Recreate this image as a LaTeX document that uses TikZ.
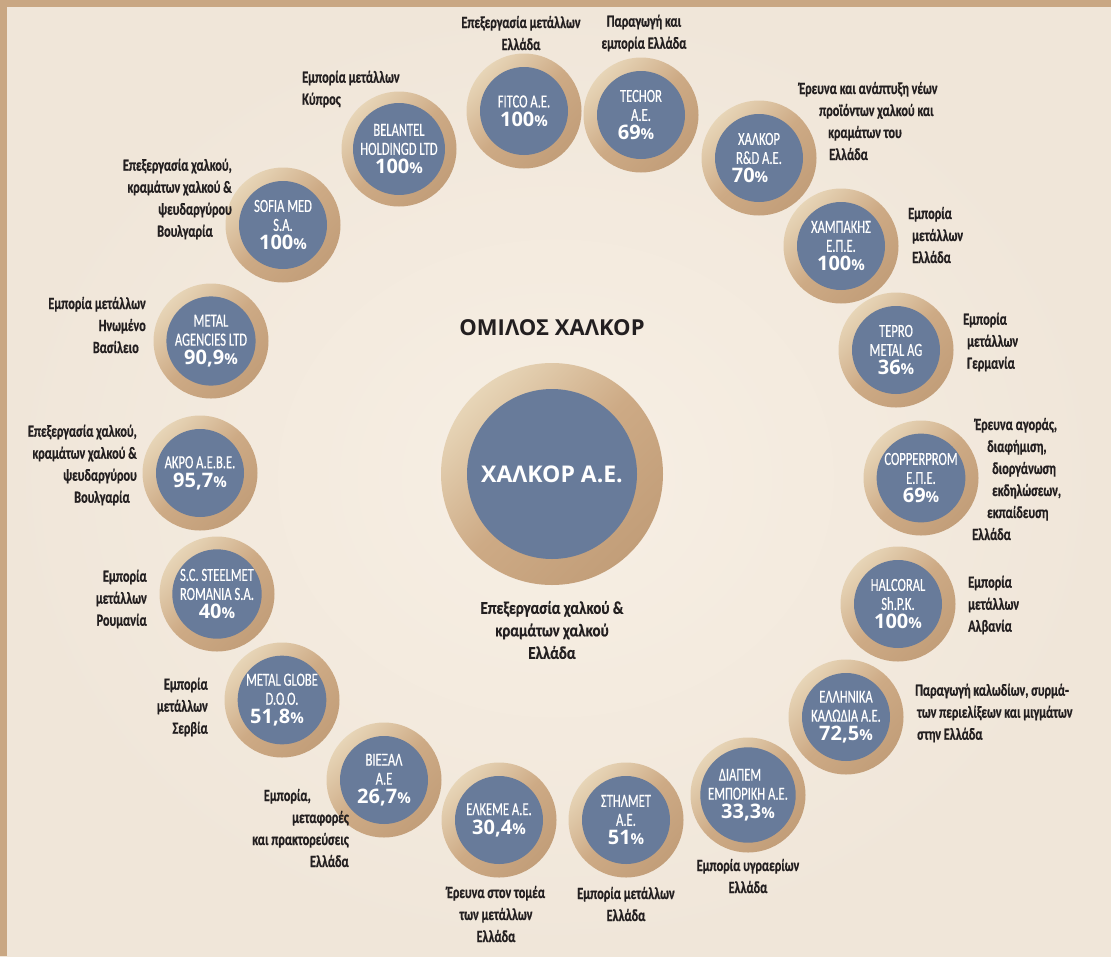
\documentclass[tikz,border=0pt]{standalone}
\usepackage{fontspec}
\setmainfont{Carlito}
\newfontfamily\narrowfont[FakeStretch=0.68, FakeBold=0.4]{Carlito}
\newfontfamily\descfont[FakeStretch=0.72, FakeBold=0.6]{Carlito Bold}
\newfontfamily\maindescfont[FakeStretch=0.83, FakeBold=0.6]{Carlito Bold}
\newfontfamily\boldfont{Open Sans}
\definecolor{bgin}{HTML}{F7EFE4}
\definecolor{bgout}{HTML}{F0E6D9}
\definecolor{frame}{HTML}{C9A783}
\definecolor{ringhi}{HTML}{E7D5B7}
\definecolor{ringmid}{HTML}{CDAA85}
\definecolor{ringlo}{HTML}{C29E79}
\definecolor{discblue}{HTML}{687B9A}
\definecolor{ink}{HTML}{231F20}
\tikzset{
    ring/.style={circle, inner sep=0pt, minimum size=115pt, top color=ringhi, bottom color=ringlo, middle color=ringmid, shading angle=45},
    disc/.style={circle, inner sep=0pt, minimum size=88pt, fill=discblue, text=white, align=center, font=\narrowfont\fontsize{18.5}{19}\selectfont},
    desc/.style={inner sep=0pt, text=ink, font=\descfont\fontsize{17}{22}\selectfont},
}
% one company: ring + blue disc with name and share
\newcommand{\firm}[3]{\node[ring] (#1ring) at (#2) {}; \node[disc] (#1) at (#2) {#3};}
\newcommand{\pct}[1]{{\boldfont\bfseries\fontsize{20}{19}\selectfont #1\fontsize{15}{15}\selectfont\%}}

\begin{document}
\begin{tikzpicture}[x=1pt, y=-1pt]
    \useasboundingbox (0,0) rectangle (1111,956);
    \shade[inner color=bgin, outer color=bgout] (0,0) rectangle (1111,956);
    \fill[frame] (0,0) rectangle (1111,7);
    \fill[frame] (0,0) rectangle (7,956);

    % centre
    \node[font=\boldfont\bfseries\fontsize{22}{22}\selectfont, text=ink] (title) at (552,328) {ΟΜΙΛΟΣ ΧΑΛΚΟΡ};
    \node[ring, minimum size=222pt] (halcorring) at (552,474) {};
    \node[disc, minimum size=170pt, font=\boldfont\bfseries\fontsize{23}{23}\selectfont] (halcor) at (552,474) {ΧΑΛΚΟΡ Α.Ε.};
    \node[desc, align=center, font=\maindescfont\fontsize{18}{22.5}\selectfont] (halcortxt) at (552,630) {Επεξεργασία χαλκού \&\\κραμάτων χαλκού\\Ελλάδα};

    % companies
    \firm{belantel}{399,149}{BELANTEL\\HOLDINGD LTD\\\pct{100}}
    \firm{fitco}{524,111}{FITCO A.E.\\\pct{100}}
    \firm{techor}{641,115}{TECHOR\\A.E.\\\pct{69}\hspace*{10pt}}
    \firm{halkorrd}{759,158}{ΧΑΛΚΟΡ\\R\&D A.E.\\\pct{70}\hspace*{18pt}}
    \firm{champakis}{841,246}{ΧΑΜΠΑΚΗΣ\\Ε.Π.Ε.\\\pct{100}}
    \firm{tepro}{896,350}{TEPRO\\METAL AG\\\pct{36}}
    \firm{copperprom}{921,478}{COPPERPROM\\Ε.Π.Ε.\\\pct{69}}
    \firm{halcoral}{898,604}{HALCORAL\\Sh.P.K.\\\pct{100}}
    \firm{kalodia}{846,717}{ΕΛΛΗΝΙΚΑ\\ΚΑΛΩΔΙΑ Α.Ε.\\\pct{72,5}}
    \firm{diapem}{748,795}{ΔΙΑΠΕΜ\hspace*{16pt}\\ΕΜΠΟΡΙΚΗ Α.Ε.\\\pct{33,3}}
    \firm{stilmet}{626,820}{ΣΤΗΛΜΕΤ\\Α.Ε.\\\pct{51}}
    \firm{elkeme}{499,820}{ΕΛΚΕΜΕ Α.Ε.\\\pct{30,4}}
    \firm{viexal}{384,780}{ΒΙΕΞΑΛ\\Α.Ε\\\pct{26,7}}
    \firm{metalglobe}{282,700}{METAL GLOBE\\D.O.O.\\\pct{51,8}\hspace*{10pt}}
    \firm{steelmet}{217,594}{S.C. STEELMET\\ROMANIA S.A.\\\pct{40}}
    \firm{akro}{200,473}{ΑΚΡΟ Α.Ε.Β.Ε.\\\pct{95,7}}
    \firm{agencies}{211,341}{METAL\\AGENCIES LTD\\\pct{90,9}}
    \firm{sofia}{283,225}{SOFIA MED\\S.A.\\\pct{100}}

    % activities
    \node[desc, align=left, anchor=west] (belanteltxt) at (302,89) {Εμπορία μετάλλων\\Κύπρος};
    \node[desc, align=center] (fitcotxt) at (521,33) {Επεξεργασία μετάλλων\\Ελλάδα};
    \node[desc, align=center] (techortxt) at (644,33) {Παραγωγή και\\εμπορία Ελλάδα};
    \node[desc, align=left, anchor=west] (halkorrdtxt) at (799,121) {Έρευνα και ανάπτυξη νέων\\\hspace*{20pt}προϊόντων χαλκού και\\\hspace*{29pt}κραμάτων του\\\hspace*{30pt}Ελλάδα};
    \node[desc, align=left, anchor=west] (champakistxt) at (908,235) {Εμπορία\\\hspace*{4pt}μετάλλων\\\hspace*{4pt}Ελλάδα};
    \node[desc, align=left, anchor=west] (teprotxt) at (963,342) {Εμπορία\\\hspace*{4pt}μετάλλων\\\hspace*{4pt}Γερμανία};
    \node[desc, align=left, anchor=west] (copperpromtxt) at (972,479) {\hspace*{3pt}Έρευνα αγοράς,\\\hspace*{15pt}διαφήμιση,\\\hspace*{20pt}διοργάνωση\\\hspace*{20pt}εκδηλώσεων,\\\hspace*{15pt}εκπαίδευση\\Ελλάδα};
    \node[desc, align=left, anchor=west] (halcoraltxt) at (968,605) {Εμπορία\\μετάλλων\\Αλβανία};
    \node[desc, align=left, anchor=west] (kalodiatxt) at (915,713) {Παραγωγή καλωδίων, συρμά-\\\hspace*{2pt}των περιελίξεων και μιγμάτων\\\hspace*{2pt}στην Ελλάδα};
    \node[desc, align=center] (diapemtxt) at (748,876) {Εμπορία υγραερίων\\Ελλάδα};
    \node[desc, align=center] (stilmettxt) at (626,904) {Εμπορία μετάλλων\\Ελλάδα};
    \node[desc, align=center] (elkemetxt) at (496,914) {Έρευνα στον τομέα\\των μετάλλων\\Ελλάδα};
    \node[desc, align=right, anchor=east] (viexaltxt) at (349,828) {Εμπορία,\hspace*{38pt}\\μεταφορές\hspace*{31pt}\\και πρακτορεύσεις\hspace*{15pt}\\Ελλάδα};
    \node[desc, align=right, anchor=east] (metalglobetxt) at (208,707) {Εμπορία\\μετάλλων\\Σερβία};
    \node[desc, align=right, anchor=east] (steelmettxt) at (147,599) {Εμπορία\\μετάλλων\\Ρουμανία};
    \node[desc, align=right, anchor=east] (akrotxt) at (137,465) {Επεξεργασία χαλκού,\\κραμάτων χαλκού \&\hspace*{9pt}\\ψευδαργύρου\hspace*{9pt}\\Βουλγαρία\hspace*{7pt}};
    \node[desc, align=right, anchor=east] (agenciestxt) at (146,325) {Εμπορία μετάλλων\\Ηνωμένο\hspace*{6pt}\\Βασίλειο\hspace*{7pt}};
    \node[desc, align=right, anchor=east] (sofiatxt) at (232,199) {Επεξεργασία χαλκού,\\κραμάτων χαλκού \&\hspace*{14pt}\\ψευδαργύρου\hspace*{19pt}\\Βουλγαρία\hspace*{19pt}};
\end{tikzpicture}
\end{document}
